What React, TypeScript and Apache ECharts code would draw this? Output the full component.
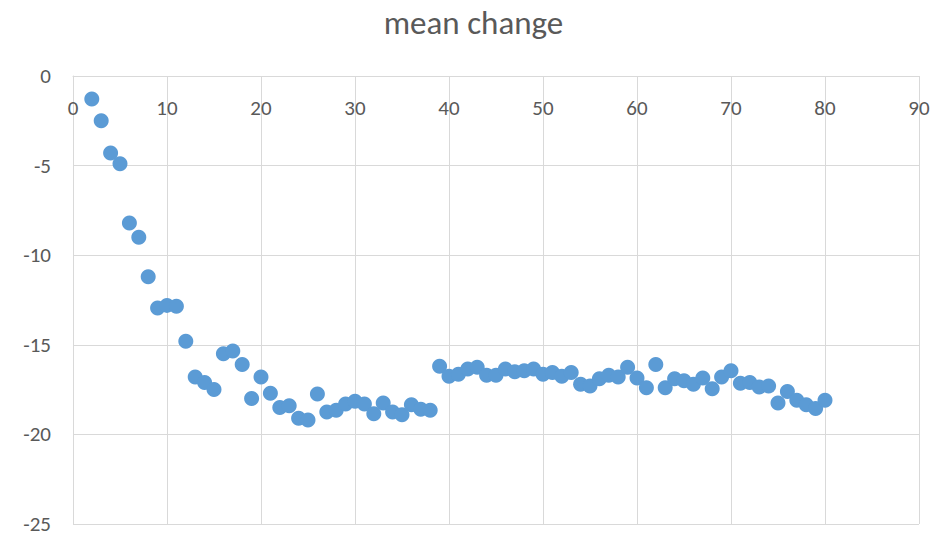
import React, { useEffect, useRef } from "react";
import * as echarts from "echarts";

const xValues = [2,3,4,5,6,7,8,9,10,11,12,13,14,15,16,17,18,19,20,21,22,23,24,25,26,27,28,29,30,31,32,33,34,35,36,37,38,39,40,41,42,43,44,45,46,47,48,49,50,51,52,53,54,55,56,57,58,59,60,61,62,63,64,65,66,67,68,69,70,71,72,73,74,75,76,77,78,79,80];
const meanChange = [-1.28,-2.5,-4.3,-4.9,-8.2,-9.0,-11.2,-12.95,-12.8,-12.85,-14.8,-16.8,-17.1,-17.5,-15.5,-15.35,-16.1,-18.0,-16.8,-17.7,-18.5,-18.4,-19.1,-19.2,-17.75,-18.75,-18.65,-18.3,-18.15,-18.3,-18.85,-18.25,-18.75,-18.9,-18.35,-18.6,-18.65,-16.2,-16.75,-16.65,-16.35,-16.25,-16.7,-16.7,-16.35,-16.5,-16.45,-16.35,-16.65,-16.55,-16.75,-16.55,-17.2,-17.3,-16.9,-16.7,-16.8,-16.25,-16.85,-17.4,-16.1,-17.4,-16.9,-17.0,-17.2,-16.85,-17.45,-16.8,-16.45,-17.15,-17.1,-17.35,-17.3,-18.25,-17.6,-18.1,-18.35,-18.55,-18.1];

const FONT = "Carlito, Calibri, 'Open Sans', sans-serif";

export default function App() {
  const ref = useRef<HTMLDivElement>(null);
  useEffect(() => {
    if (!ref.current) return;
    const chart = echarts.init(ref.current, undefined, { renderer: "svg" });
    chart.setOption({
      animation: false,
      title: {
        text: "mean change",
        left: "center",
        top: 1,
        textStyle: { fontFamily: FONT, fontSize: 33, fontWeight: "normal", color: "#595959" },
      },
      grid: { left: 73, right: 28, top: 76, bottom: 14, containLabel: false },
      xAxis: {
        type: "value",
        min: 0,
        max: 90,
        interval: 10,
        position: "top",
        axisLine: { show: true, lineStyle: { color: "#d9d9d9" } },
        axisTick: { show: false },
        axisLabel: { inside: true, color: "#595959", fontFamily: FONT, fontSize: 21, margin: 21 },
        splitLine: { show: true, lineStyle: { color: "#d9d9d9", width: 1 } },
      },
      yAxis: {
        type: "value",
        min: -25,
        max: 0,
        interval: 5,
        axisLine: { show: true, lineStyle: { color: "#d9d9d9" } },
        axisTick: { show: false },
        axisLabel: { color: "#595959", fontFamily: FONT, fontSize: 21, margin: 22 },
        splitLine: { show: true, lineStyle: { color: "#d9d9d9", width: 1 } },
      },
      series: [
        {
          type: "scatter",
          data: xValues.map((x, i) => [x, meanChange[i]]),
          symbol: "circle",
          symbolSize: 15,
          itemStyle: { color: "#5b9bd5", opacity: 1 },
        },
      ],
    });
    return () => chart.dispose();
  }, []);
  return <div ref={ref} style={{ position: "absolute", left: 0, top: 0, width: 947, height: 538 }} />;
}
